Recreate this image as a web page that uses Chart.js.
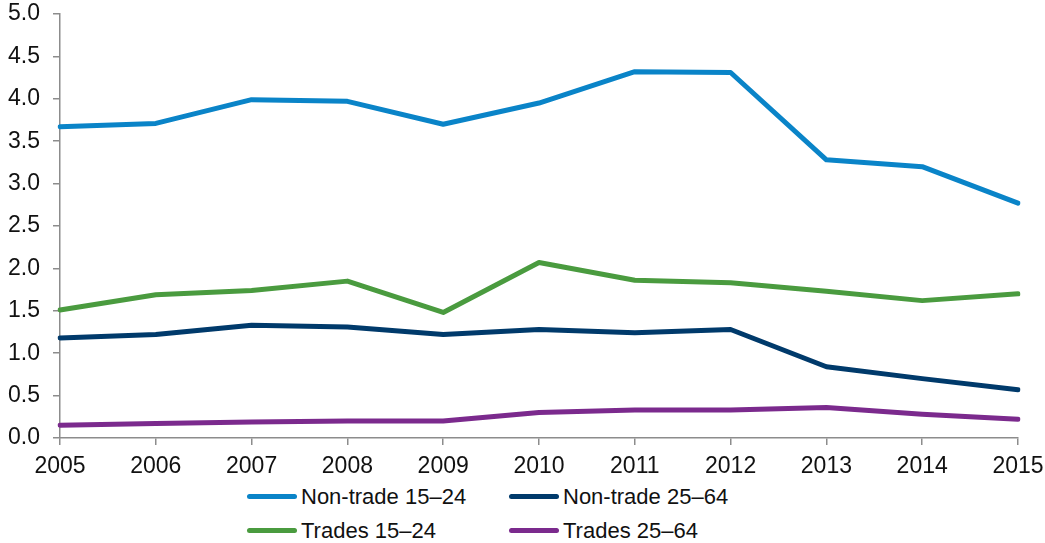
<!DOCTYPE html>
<html>
<head>
<meta charset="utf-8">
<script src="https://cdn.jsdelivr.net/npm/chart.js@4"></script>
<style>
  body { margin: 0; background: #fff; font-family: "Liberation Sans", Arial, sans-serif; }
  #wrap { position: relative; width: 1045px; height: 543px; }
  #chart { position: absolute; left: 0; top: 0; }
  .leg { position: absolute; font-size: 22px; color: #111; white-space: nowrap; line-height: 26px; }
  .leg span { display: inline-block; width: 50px; height: 5px; border-radius: 3px; vertical-align: middle; margin-right: 4px; position: relative; top: -2px; }
</style>
</head>
<body>
<div id="wrap">
  <canvas id="chart" width="1045" height="484"></canvas>
  <div class="leg" style="left:247px;top:484px"><span style="background:#0A84C8"></span>Non-trade 15–24</div>
  <div class="leg" style="left:509px;top:484px"><span style="background:#003A6B"></span>Non-trade 25–64</div>
  <div class="leg" style="left:247px;top:518px"><span style="background:#4A9B3F"></span>Trades 15–24</div>
  <div class="leg" style="left:509px;top:518px"><span style="background:#7B2A8D"></span>Trades 25–64</div>
</div>
<script>
const years = ["2005", "2006", "2007", "2008", "2009", "2010", "2011", "2012", "2013", "2014", "2015"];
const nonTrade1524 = [3.67, 3.71, 3.99, 3.97, 3.70, 3.95, 4.32, 4.31, 3.28, 3.20, 2.77];
const nonTrade2564 = [1.18, 1.22, 1.33, 1.31, 1.22, 1.28, 1.24, 1.28, 0.84, 0.70, 0.57];
const trades1524 = [1.51, 1.69, 1.74, 1.85, 1.48, 2.07, 1.86, 1.83, 1.73, 1.62, 1.70];
const trades2564 = [0.15, 0.17, 0.19, 0.20, 0.20, 0.30, 0.33, 0.33, 0.36, 0.28, 0.22];

function line(label, data, color) {
    return {
        label: label,
        data: data,
        borderColor: color,
        backgroundColor: color,
        borderWidth: 5,
        pointRadius: 0,
        tension: 0,
        borderCapStyle: 'round',
        borderJoinStyle: 'round'
    };
}

const ctx = document.getElementById("chart").getContext("2d");
new Chart(ctx, {
    type: 'line',
    data: {
        labels: years,
        datasets: [
            line("Trades 25–64", trades2564, "#7B2A8D"),
            line("Non-trade 25–64", nonTrade2564, "#003A6B"),
            line("Trades 15–24", trades1524, "#4A9B3F"),
            line("Non-trade 15–24", nonTrade1524, "#0A84C8")
        ]
    },
    options: {
        responsive: false,
        animation: false,
        layout: { padding: 0 },
        plugins: { legend: { display: false }, tooltip: { enabled: false } },
        scales: {
            x: {
                offset: false,
                grid: { drawOnChartArea: false, drawTicks: true, tickLength: 7, tickColor: '#8c8c8c', lineWidth: 1.5 },
                border: { color: '#8c8c8c', width: 1.5 },
                ticks: { color: '#111', font: { family: 'Liberation Sans', size: 23 }, padding: 8, maxRotation: 0 },
                afterFit: function (s) { s.height = 46; s.paddingLeft = 0; s.paddingRight = 27; }
            },
            y: {
                min: 0,
                max: 5,
                grid: { drawOnChartArea: false, drawTicks: true, tickLength: 7, tickColor: '#8c8c8c', lineWidth: 1.5 },
                border: { color: '#8c8c8c', width: 1.5 },
                ticks: {
                    stepSize: 0.5,
                    color: '#111',
                    font: { family: 'Liberation Sans', size: 23 },
                    padding: 13,
                    callback: function (v) { return v.toFixed(1); }
                },
                afterFit: function (s) { s.width = 60; s.paddingTop = 14; s.paddingBottom = 0; }
            }
        }
    }
});
</script>
</body>
</html>
